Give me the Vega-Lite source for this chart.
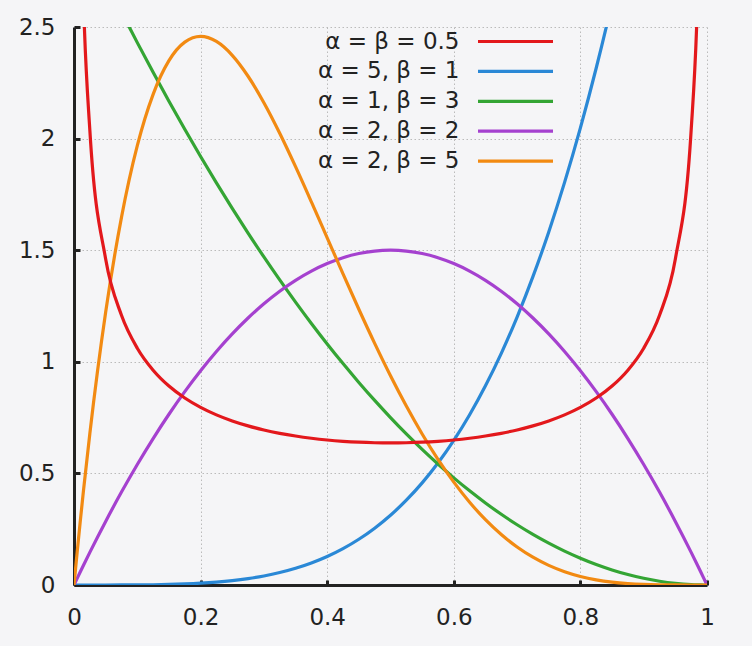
{
  "$schema": "https://vega.github.io/schema/vega-lite/v6.json",
  "width": 633,
  "height": 558,
  "autosize": {"type": "none"},
  "padding": {"left": 74, "top": 27, "right": 45, "bottom": 61},
  "background": "#f5f5f7",
  "config": {"view": {"stroke": null}, "font": "DejaVu Sans"},
  "data": {"values": [
    {"x": 0, "b": 0, "g": 3, "p": 0, "o": 0},
    {"x": 0.005, "r": 4.5129, "b": 0, "g": 2.9701, "p": 0.02985, "o": 0.14702},
    {"x": 0.01, "r": 3.1991, "b": 0, "g": 2.9403, "p": 0.0594, "o": 0.28818},
    {"x": 0.015, "r": 2.6187, "b": 0, "g": 2.9107, "p": 0.08865, "o": 0.4236},
    {"x": 0.025, "r": 2.0388, "b": 0, "g": 2.8519, "p": 0.14625, "o": 0.67777},
    {"x": 0.05, "r": 1.4605, "b": 0.00003, "g": 2.7075, "p": 0.285, "o": 1.22176},
    {"x": 0.075, "r": 1.2085, "b": 0.00016, "g": 2.5669, "p": 0.41625, "o": 1.64721},
    {"x": 0.1, "r": 1.061, "b": 0.0005, "g": 2.43, "p": 0.54, "o": 1.9683},
    {"x": 0.125, "r": 0.9625, "b": 0.00122, "g": 2.2969, "p": 0.65625, "o": 2.19818},
    {"x": 0.15, "r": 0.8914, "b": 0.00253, "g": 2.1675, "p": 0.765, "o": 2.34903},
    {"x": 0.175, "r": 0.8377, "b": 0.00469, "g": 2.0419, "p": 0.86625, "o": 2.43206},
    {"x": 0.2, "r": 0.7958, "b": 0.008, "g": 1.92, "p": 0.96, "o": 2.4576},
    {"x": 0.225, "r": 0.7623, "b": 0.01281, "g": 1.8019, "p": 1.04625, "o": 2.43506},
    {"x": 0.25, "r": 0.7351, "b": 0.01953, "g": 1.6875, "p": 1.125, "o": 2.37305},
    {"x": 0.275, "r": 0.7129, "b": 0.0286, "g": 1.5769, "p": 1.19625, "o": 2.27933},
    {"x": 0.3, "r": 0.6946, "b": 0.0405, "g": 1.47, "p": 1.26, "o": 2.1609},
    {"x": 0.325, "r": 0.6796, "b": 0.05578, "g": 1.3669, "p": 1.31625, "o": 2.02404},
    {"x": 0.35, "r": 0.6674, "b": 0.07503, "g": 1.2675, "p": 1.365, "o": 1.87432},
    {"x": 0.375, "r": 0.6575, "b": 0.09888, "g": 1.1719, "p": 1.40625, "o": 1.71661},
    {"x": 0.4, "r": 0.6497, "b": 0.128, "g": 1.08, "p": 1.44, "o": 1.5552},
    {"x": 0.425, "r": 0.6439, "b": 0.16313, "g": 0.9919, "p": 1.46625, "o": 1.39374},
    {"x": 0.45, "r": 0.6398, "b": 0.20503, "g": 0.9075, "p": 1.485, "o": 1.23534},
    {"x": 0.475, "r": 0.6374, "b": 0.25453, "g": 0.8269, "p": 1.49625, "o": 1.08256},
    {"x": 0.5, "r": 0.6366, "b": 0.3125, "g": 0.75, "p": 1.5, "o": 0.9375},
    {"x": 0.525, "r": 0.6374, "b": 0.37985, "g": 0.67688, "p": 1.49625, "o": 0.80179},
    {"x": 0.55, "r": 0.6398, "b": 0.45753, "g": 0.6075, "p": 1.485, "o": 0.6766},
    {"x": 0.575, "r": 0.6439, "b": 0.54657, "g": 0.54188, "p": 1.46625, "o": 0.56278},
    {"x": 0.6, "r": 0.6497, "b": 0.648, "g": 0.48, "p": 1.44, "o": 0.4608},
    {"x": 0.625, "r": 0.6575, "b": 0.76294, "g": 0.42188, "p": 1.40625, "o": 0.37079},
    {"x": 0.65, "r": 0.6674, "b": 0.89253, "g": 0.3675, "p": 1.365, "o": 0.29262},
    {"x": 0.675, "r": 0.6796, "b": 1.03797, "g": 0.31688, "p": 1.31625, "o": 0.22593},
    {"x": 0.7, "r": 0.6946, "b": 1.2005, "g": 0.27, "p": 1.26, "o": 0.1701},
    {"x": 0.725, "r": 0.7129, "b": 1.38141, "g": 0.22688, "p": 1.19625, "o": 0.12439},
    {"x": 0.75, "r": 0.7351, "b": 1.58203, "g": 0.1875, "p": 1.125, "o": 0.08789},
    {"x": 0.775, "r": 0.7623, "b": 1.80375, "g": 0.15188, "p": 1.04625, "o": 0.05959},
    {"x": 0.8, "r": 0.7958, "b": 2.048, "g": 0.12, "p": 0.96, "o": 0.0384},
    {"x": 0.825, "r": 0.8377, "b": 2.31625, "g": 0.09188, "p": 0.86625, "o": 0.02321},
    {"x": 0.85, "r": 0.8914, "b": 2.61003, "g": 0.0675, "p": 0.765, "o": 0.01291},
    {"x": 0.875, "r": 0.9625, "b": 2.93091, "g": 0.04688, "p": 0.65625, "o": 0.00641},
    {"x": 0.9, "r": 1.061, "b": 3.2805, "g": 0.03, "p": 0.54, "o": 0.0027},
    {"x": 0.925, "r": 1.2085, "b": 3.66047, "g": 0.01688, "p": 0.41625, "o": 0.00088},
    {"x": 0.95, "r": 1.4605, "b": 4.07253, "g": 0.0075, "p": 0.285, "o": 0.00018},
    {"x": 0.975, "r": 2.0388, "b": 4.51844, "g": 0.00188, "p": 0.14625, "o": 0.00001},
    {"x": 0.985, "r": 2.6187, "b": 4.70669, "g": 0.00068, "p": 0.08865, "o": 0},
    {"x": 0.99, "r": 3.1991, "b": 4.80298, "g": 0.0003, "p": 0.0594, "o": 0},
    {"x": 0.995, "r": 4.5129, "b": 4.90075, "g": 0.00008, "p": 0.02985, "o": 0},
    {"x": 1, "b": 5, "g": 0, "p": 0, "o": 0}
  ]},
  "transform": [
    {"fold": ["r", "b", "g", "p", "o"], "as": ["s", "y"]},
    {"filter": "isValid(datum.y)"}
  ],
  "mark": {"type": "line", "strokeWidth": 3.2, "clip": true, "interpolate": "monotone"},
  "encoding": {
    "x": {
      "field": "x", "type": "quantitative",
      "scale": {"domain": [0, 1], "nice": false, "zero": false},
      "axis": {
        "title": null, "values": [0, 0.2, 0.4, 0.6, 0.8, 1], "format": "~g",
        "labelFont": "DejaVu Sans", "labelFontSize": 23, "labelColor": "#222222",
        "labelFlush": false, "labelPadding": 26, "labelDx": 3,
        "domainColor": "#222222", "domainWidth": 3,
        "tickColor": "#222222", "tickWidth": 3, "tickSize": -5,
        "grid": true, "gridColor": "#bbbbbb", "gridDash": [1.5, 2.5], "gridWidth": 1
      }
    },
    "y": {
      "field": "y", "type": "quantitative",
      "scale": {"domain": [0, 2.5], "nice": false},
      "axis": {
        "title": null, "values": [0, 0.5, 1, 1.5, 2, 2.5], "format": "~g",
        "labelFont": "DejaVu Sans", "labelFontSize": 23, "labelColor": "#222222",
        "labelFlush": false, "labelPadding": 25,
        "domainColor": "#222222", "domainWidth": 3,
        "tickColor": "#222222", "tickWidth": 3, "tickSize": -6,
        "grid": true, "gridColor": "#bbbbbb", "gridDash": [1.5, 2.5], "gridWidth": 1
      }
    },
    "color": {
      "field": "s", "type": "nominal",
      "scale": {"domain": ["r", "b", "g", "p", "o"], "range": ["#e3181c", "#2a88d6", "#34a534", "#a541cf", "#f28a12"]},
      "legend": {
        "orient": "none", "legendX": 430, "legendY": 3, "title": null,
        "symbolType": "M-5,0H5", "symbolSize": 225, "symbolStrokeWidth": 3.2,
        "symbolFillColor": "transparent",
        "labelAlign": "right", "labelOffset": -67.5, "labelFont": "DejaVu Sans",
        "labelFontSize": 23, "labelColor": "#222222", "labelLimit": 300,
        "rowPadding": 5.9, "padding": 0,
        "labelExpr": "datum.label == 'r' ? 'α = β = 0.5' : datum.label == 'b' ? 'α = 5, β = 1' : datum.label == 'g' ? 'α = 1, β = 3' : datum.label == 'p' ? 'α = 2, β = 2' : 'α = 2, β = 5'"
      }
    }
  }
}
